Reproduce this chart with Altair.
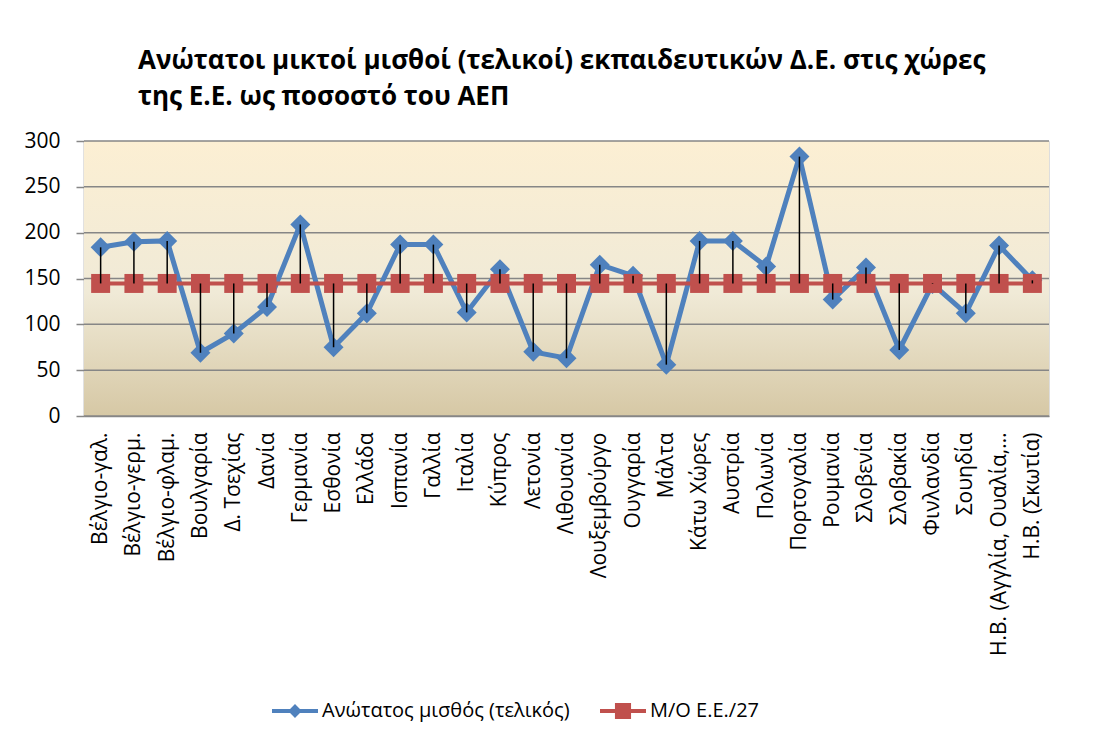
import altair as alt
import pandas as pd

countries = [
    "Βέλγιο-γαλ.", "Βέλγιο-γερμ.", "Βέλγιο-φλαμ.", "Βουλγαρία", "Δ. Τσεχίας",
    "Δανία", "Γερμανία", "Εσθονία", "Ελλάδα", "Ισπανία", "Γαλλία", "Ιταλία",
    "Κύπρος", "Λετονία", "Λιθουανία", "Λουξεμβούργο", "Ουγγαρία", "Μάλτα",
    "Κάτω Χώρες", "Αυστρία", "Πολωνία", "Πορτογαλία", "Ρουμανία", "Σλοβενία",
    "Σλοβακία", "Φινλανδία", "Σουηδία", "Η.Β. (Αγγλία, Ουαλία,…", "Η.Β. (Σκωτία)",
]
salary = [184, 190, 191, 69, 90, 119, 209, 75, 112, 187, 187, 113, 160, 70, 63,
          165, 153, 56, 191, 191, 163, 283, 127, 162, 72, 144, 112, 186, 148]
eu_avg = [144.6, 144.6, 144.6, 144.6, 144.6, 144.6, 144.6, 144.6, 144.6, 144.6,
          144.6, 144.6, 144.6, 144.6, 144.6, 144.6, 144.6, 144.6, 144.6, 144.6,
          144.6, 144.6, 144.6, 144.6, 144.6, 144.6, 144.6, 144.6, 144.6]
series_names = ["Ανώτατος μισθός (τελικός)", "Μ/Ο Ε.Ε./27"]
series_colors = ["#4F81BD", "#C0504D"]
y_ticks = [0, 50, 100, 150, 200, 250, 300]
title_lines = [
    "Ανώτατοι μικτοί μισθοί (τελικοί) εκπαιδευτικών Δ.Ε. στις χώρες",
    "της Ε.Ε. ως ποσοστό του ΑΕΠ",
]

FONT = "Open Sans"

wide = pd.DataFrame({"country": countries, "salary": salary, "avg": eu_avg})
long = pd.concat([
    pd.DataFrame({"country": countries, "value": salary, "series": series_names[0]}),
    pd.DataFrame({"country": countries, "value": eu_avg, "series": series_names[1]}),
])
grid_df = pd.DataFrame({"tick": y_ticks})

x_enc = alt.X("country:N", sort=countries,
              scale=alt.Scale(type="point", padding=0.5),
              axis=alt.Axis(title=None, labelAngle=270, labelFontSize=21,
                            labelFont=FONT, labelColor="black", ticks=False,
                            tickSize=0, labelPadding=16, domainColor="#868686",
                            domainWidth=1.5, labelLimit=400))
y_scale = alt.Scale(domain=[0, 300], nice=False)
y_axis = alt.Axis(title=None, values=y_ticks, grid=False, labelFontSize=21,
                  labelFont=FONT, labelColor="black", tickSize=8,
                  tickColor="#868686", tickWidth=1.5, labelPadding=16,
                  domainColor="#868686", domainWidth=1.5)

gradient = alt.Gradient(
    gradient="linear",
    stops=[alt.GradientStop(color="#FCEFD3", offset=0),
           alt.GradientStop(color="#F0EAD7", offset=0.55),
           alt.GradientStop(color="#D6C8A5", offset=1)],
    x1=0, x2=0, y1=0, y2=1,
)

bg = alt.Chart(grid_df).mark_rect(color=gradient).encode(
    y=alt.datum(300, type="quantitative", scale=y_scale, axis=y_axis),
    y2=alt.datum(0),
)

grid = alt.Chart(grid_df).mark_rule(color="#868686", strokeWidth=1.5).encode(
    y=alt.Y("tick:Q", scale=y_scale, axis=y_axis),
)

blue = long[long["series"] == series_names[0]]
red = long[long["series"] == series_names[1]]

blue_line = alt.Chart(blue).mark_line(color=series_colors[0], strokeWidth=5).encode(
    x=x_enc, y=alt.Y("value:Q", scale=y_scale, axis=y_axis))
blue_pts = alt.Chart(blue).mark_point(filled=True, opacity=1, shape="diamond",
                                      size=400, color=series_colors[0]).encode(
    x=x_enc, y=alt.Y("value:Q", scale=y_scale, axis=y_axis))
red_line = alt.Chart(red).mark_line(color=series_colors[1], strokeWidth=4).encode(
    x=x_enc, y=alt.Y("value:Q", scale=y_scale, axis=y_axis))
red_pts = alt.Chart(red).mark_point(filled=True, opacity=1, shape="square",
                                    size=360, color=series_colors[1]).encode(
    x=x_enc, y=alt.Y("value:Q", scale=y_scale, axis=y_axis))

drops = alt.Chart(wide).mark_rule(color="black", strokeWidth=1.5).encode(
    x=x_enc, y=alt.Y("salary:Q", scale=y_scale, axis=y_axis), y2="avg:Q")

path_diamond = "M-1,-0.087H1V0.087H-1Z M0,-0.3L0.3,0L0,0.3L-0.3,0Z"
path_square = "M-1,-0.087H1V0.087H-1Z M-0.35,-0.35H0.35V0.35H-0.35Z"

legend = alt.Legend(title=None, orient="none", legendX=188, legendY=547,
                    direction="horizontal", labelFont=FONT, labelFontSize=20,
                    labelColor="black", symbolSize=2116, symbolStrokeWidth=0,
                    columnPadding=30, labelOffset=4, labelLimit=500)
legend_layer = alt.Chart(long).transform_filter("false").mark_point(
    filled=True, opacity=1).encode(
    x=x_enc, y=alt.Y("value:Q", scale=y_scale, axis=y_axis),
    color=alt.Color("series:N", scale=alt.Scale(domain=series_names, range=series_colors), legend=legend),
    shape=alt.Shape("series:N", scale=alt.Scale(domain=series_names, range=[path_diamond, path_square]), legend=legend),
)

chart = alt.layer(bg, grid, blue_line, blue_pts, red_line, red_pts, drops, legend_layer).properties(
    width=965, height=275,
    title=alt.TitleParams(text=title_lines, anchor="start", frame="group", dx=54,
                          fontSize=26, font=FONT, fontWeight="bold", color="black",
                          lineHeight=36, offset=20),
    autosize=alt.AutoSizeParams(type="none"),
    padding={"left": 76, "top": 133, "right": 50, "bottom": 314},
).configure_view(stroke=None).configure(background="white")

chart.save("out.html", embed_options={"renderer": "svg", "actions": False})
